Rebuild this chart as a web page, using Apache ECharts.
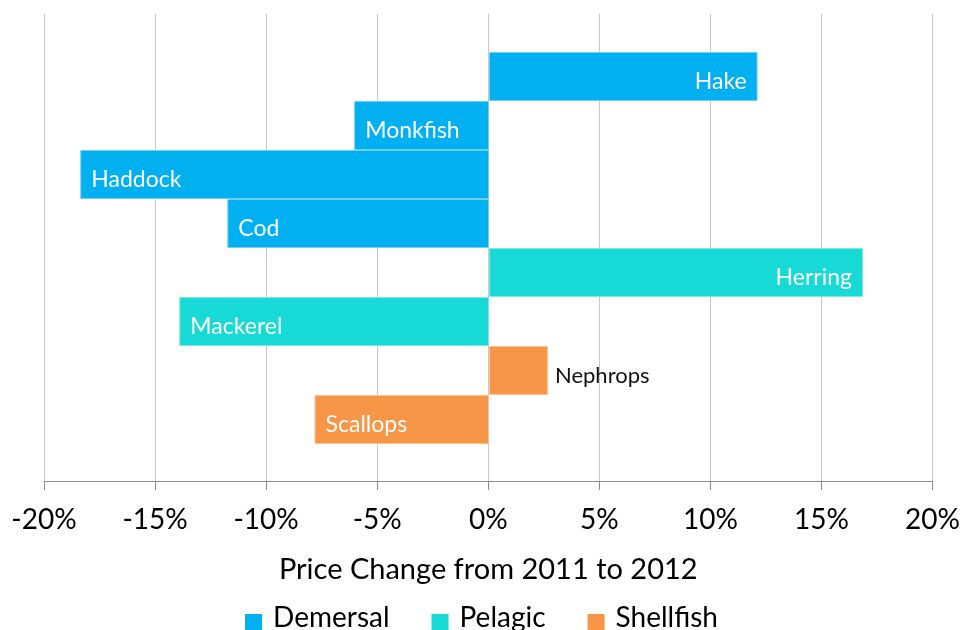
<!DOCTYPE html>
<html>
<head>
<meta charset="utf-8">
<script src="https://cdn.jsdelivr.net/npm/echarts@6/dist/echarts.min.js"></script>
<style>
  html, body { margin: 0; padding: 0; background: #fff; }
  #chart { width: 963px; height: 630px; }
</style>
</head>
<body>
<div id="chart"></div>
<script>
// fish species, top to bottom
const species = ['Hake', 'Monkfish', 'Haddock', 'Cod', 'Herring', 'Mackerel', 'Nephrops', 'Scallops']
const groups = ['Demersal', 'Pelagic', 'Shellfish']
// price change 2011 -> 2012, in %, null where species not in the group
const demersal = [12.07, -6.06, -18.37, -11.76, null, null, null, null]
const pelagic = [null, null, null, null, 16.81, -13.92, null, null]
const shellfish = [null, null, null, null, null, null, 2.65, -7.84]
const xTicks = { min: -20, max: 20, step: 5 }

const colors = ['#00b0f0', '#17d9d6', '#f79646']
const borders = ['#6fd0f6', '#7be8e6', '#fbc293']
const font = 'Lato, "Open Sans", sans-serif'

function items (vals) {
  return vals.map((v, i) => {
    if (v == null) return '-'
    const small = Math.abs(v) < 4
    return {
      value: v,
      label: small
        ? { position: 'right', color: '#111', fontSize: 22, distance: 7 }
        : { position: v >= 0 ? 'insideRight' : 'insideLeft' },
    }
  })
}

const chart = echarts.init(document.getElementById('chart'), null, { renderer: 'canvas' })
chart.setOption({
  animation: false,
  textStyle: { fontFamily: font },
  grid: [
    { left: 44, right: 29, top: 14, bottom: 149 },
    { left: 44, right: 29, top: 52, height: 392 },
  ],
  xAxis: [
    {
      gridIndex: 0, type: 'value', min: xTicks.min, max: xTicks.max, interval: xTicks.step,
      axisLine: { show: true, lineStyle: { color: '#8c8c8c', width: 1 } },
      axisTick: { show: true, length: 9, lineStyle: { color: '#8c8c8c' } },
      axisLabel: { formatter: '{value}%', color: '#000', fontSize: 28, margin: 25, fontFamily: font },
      splitLine: { show: true, lineStyle: { color: '#c9c9c9', width: 1 } },
      name: 'Price Change from 2011 to 2012', nameLocation: 'middle', nameGap: 74,
      nameTextStyle: { color: '#000', fontSize: 29, fontFamily: font },
    },
    { gridIndex: 1, type: 'value', min: xTicks.min, max: xTicks.max, show: false, splitLine: { show: false } },
  ],
  yAxis: [
    { gridIndex: 0, type: 'value', show: false, splitLine: { show: false } },
    { gridIndex: 1, type: 'category', data: species, inverse: true, show: false },
  ],
  legend: {
    data: groups, left: 'center', top: 599, itemWidth: 17, itemHeight: 26, itemGap: 42,
    // square sitting low, next to the text baseline
    icon: 'path://M0,0L0.01,0M0,9L17,9L17,26L0,26Z', itemStyle: { borderWidth: 0 },
    textStyle: { color: '#000', fontSize: 28, fontFamily: font, padding: [0, 0, 0, 6] },
  },
  series: [demersal, pelagic, shellfish].map((vals, i) => ({
    name: groups[i], type: 'bar', stack: 'all', xAxisIndex: 1, yAxisIndex: 1,
    data: items(vals), barCategoryGap: '0%',
    itemStyle: { color: colors[i], borderColor: borders[i], borderWidth: 1 },
    label: {
      show: true, formatter: '{b}', color: '#fff', fontSize: 23, distance: 11,
      offset: [0, 5], fontFamily: font,
    },
  })),
})
</script>
</body>
</html>
